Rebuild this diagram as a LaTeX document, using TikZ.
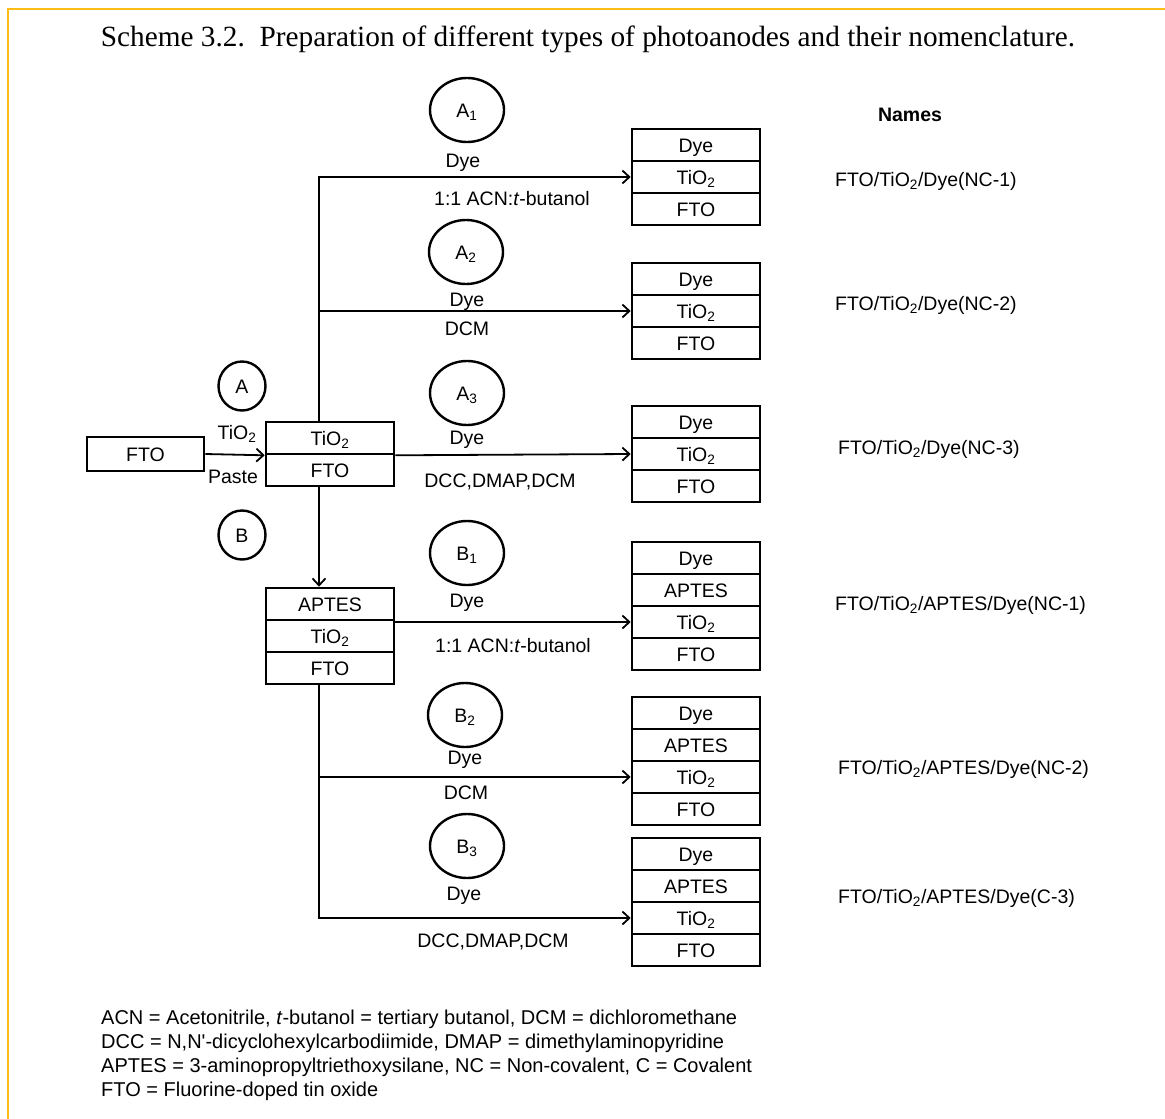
\documentclass[tikz,border=0pt]{standalone}
\usepackage{fontspec}
\setmainfont{Liberation Serif}
\newfontfamily\arial{Liberation Sans}
\usetikzlibrary{arrows.meta,shapes.geometric}
\definecolor{gold}{RGB}{252,190,20}
\tikzset{
  txt/.style={inner sep=0pt, text height=14pt, text depth=0pt, font=\arial\fontsize{19.5}{22}\selectfont},
  cell/.style={txt, draw, line width=2.6pt, minimum width=128pt, minimum height=32pt},
  ring/.style={txt, draw, ellipse, line width=2.4pt, minimum width=74pt, minimum height=64pt},
  smallring/.style={txt, draw, ellipse, line width=2.4pt, minimum width=47pt, minimum height=49pt},
  conn/.style={line width=1.8pt},
  arr/.style={conn, -{Straight Barb[length=7pt,width=13pt]}},
  namelbl/.style={txt, anchor=west},
  legend/.style={inner sep=0pt, anchor=base west, font=\arial\fontsize{20}{22}\selectfont},
}
\begin{document}
\begin{tikzpicture}[x=1pt,y=-1pt]
\useasboundingbox (0,0) rectangle (1165,1119);
\draw[gold,line width=2.6pt] (8,1119) -- (8,9) -- (1165,9);
\node[inner sep=0pt, anchor=base, font=\fontsize{29.3}{32}\selectfont] (cap) at (588,46)
  {Scheme 3.2.\ \ Preparation of different types of photoanodes and their nomenclature.};

% left FTO and first stack
\node[cell, minimum width=117pt, minimum height=34pt] (fto) at (145.5,454) {FTO};
\node[cell] (m1) at (330,438) {TiO\textsubscript{2}};
\node[cell] (m2) at (330,470) {FTO};
\node[txt] (tiolbl) at (237,432) {TiO\textsubscript{2}};
\node[txt] (pastelbl) at (233,476) {Paste};
\node[smallring] (cA) at (242,386) {A};
\node[smallring] (cB) at (242,535) {B};

% APTES stack
\node[cell] (l1) at (330,604) {APTES};
\node[cell] (l2) at (330,636) {TiO\textsubscript{2}};
\node[cell] (l3) at (330,668) {FTO};

% right stacks
\node[cell] (r1a) at (696,145) {Dye};
\node[cell] (r1b) at (696,177) {TiO\textsubscript{2}};
\node[cell] (r1c) at (696,209) {FTO};

\node[cell] (r2a) at (696,279) {Dye};
\node[cell] (r2b) at (696,311) {TiO\textsubscript{2}};
\node[cell] (r2c) at (696,343) {FTO};

\node[cell] (r3a) at (696,422) {Dye};
\node[cell] (r3b) at (696,454) {TiO\textsubscript{2}};
\node[cell] (r3c) at (696,486) {FTO};

\node[cell] (r4a) at (696,558) {Dye};
\node[cell] (r4b) at (696,590) {APTES};
\node[cell] (r4c) at (696,622) {TiO\textsubscript{2}};
\node[cell] (r4d) at (696,654) {FTO};

\node[cell] (r5a) at (696,713) {Dye};
\node[cell] (r5b) at (696,745) {APTES};
\node[cell] (r5c) at (696,777) {TiO\textsubscript{2}};
\node[cell] (r5d) at (696,809) {FTO};

\node[cell] (r6a) at (696,854) {Dye};
\node[cell] (r6b) at (696,886) {APTES};
\node[cell] (r6c) at (696,918) {TiO\textsubscript{2}};
\node[cell] (r6d) at (696,950) {FTO};

% reagent circles and labels
\node[ring] (cA1) at (467,110) {A\textsubscript{1}};
\node[txt] (dA1) at (463,160) {Dye};
\node[txt] (sA1) at (512,198) {1:1 ACN:\textit{t}-butanol};

\node[ring] (cA2) at (466,252) {A\textsubscript{2}};
\node[txt] (dA2) at (467,299) {Dye};
\node[txt] (sA2) at (467,328) {DCM};

\node[ring] (cA3) at (467,393) {A\textsubscript{3}};
\node[txt] (dA3) at (467,437) {Dye};
\node[txt] (sA3) at (500,480) {DCC,DMAP,DCM};

\node[ring] (cB1) at (467,553) {B\textsubscript{1}};
\node[txt] (dB1) at (467,600) {Dye};
\node[txt] (sB1) at (513,645) {1:1 ACN:\textit{t}-butanol};

\node[ring] (cB2) at (465,715) {B\textsubscript{2}};
\node[txt] (dB2) at (465,757) {Dye};
\node[txt] (sB2) at (466,792) {DCM};

\node[ring] (cB3) at (467,846) {B\textsubscript{3}};
\node[txt] (dB3) at (464,893) {Dye};
\node[txt] (sB3) at (493,940) {DCC,DMAP,DCM};

% connectors
\coordinate (tr) at (319,0);
\draw[arr] (fto.east) -- (m1.south west);
\draw[arr] (m1.north -| tr) |- (r1b.west);
\draw[arr] (r2b.west -| tr) -- (r2b.west);
\draw[arr] (m1.south east) -- (r3b.west);
\draw[arr] (m2.south -| tr) -- (l1.north -| tr);
\draw[arr] (r4c.west -| l1.east) -- (r4c.west);
\draw[arr] (l3.south -| tr) |- (r6c.west);
\draw[arr] (r5c.west -| tr) -- (r5c.west);

% names
\node[txt, font=\arial\bfseries\fontsize{19.5}{22}\selectfont] (names) at (910,114) {Names};
\node[namelbl] (n1) at (835,179) {FTO/TiO\textsubscript{2}/Dye(NC-1)};
\node[namelbl] (n2) at (835,303) {FTO/TiO\textsubscript{2}/Dye(NC-2)};
\node[namelbl] (n3) at (838,447) {FTO/TiO\textsubscript{2}/Dye(NC-3)};
\node[namelbl] (n4) at (835,603) {FTO/TiO\textsubscript{2}/APTES/Dye(NC-1)};
\node[namelbl] (n5) at (838,767) {FTO/TiO\textsubscript{2}/APTES/Dye(NC-2)};
\node[namelbl] (n6) at (838,896) {FTO/TiO\textsubscript{2}/APTES/Dye(C-3)};

% legend
\node[legend] (lg1) at (101,1024) {ACN = Acetonitrile, \textit{t}-butanol = tertiary butanol, DCM = dichloromethane};
\node[legend] (lg2) at (101,1048) {DCC = N,N'-dicyclohexylcarbodiimide, DMAP = dimethylaminopyridine};
\node[legend] (lg3) at (101,1072) {APTES = 3-aminopropyltriethoxysilane, NC = Non-covalent, C = Covalent};
\node[legend] (lg4) at (101,1096) {FTO = Fluorine-doped tin oxide};
\end{tikzpicture}
\end{document}
